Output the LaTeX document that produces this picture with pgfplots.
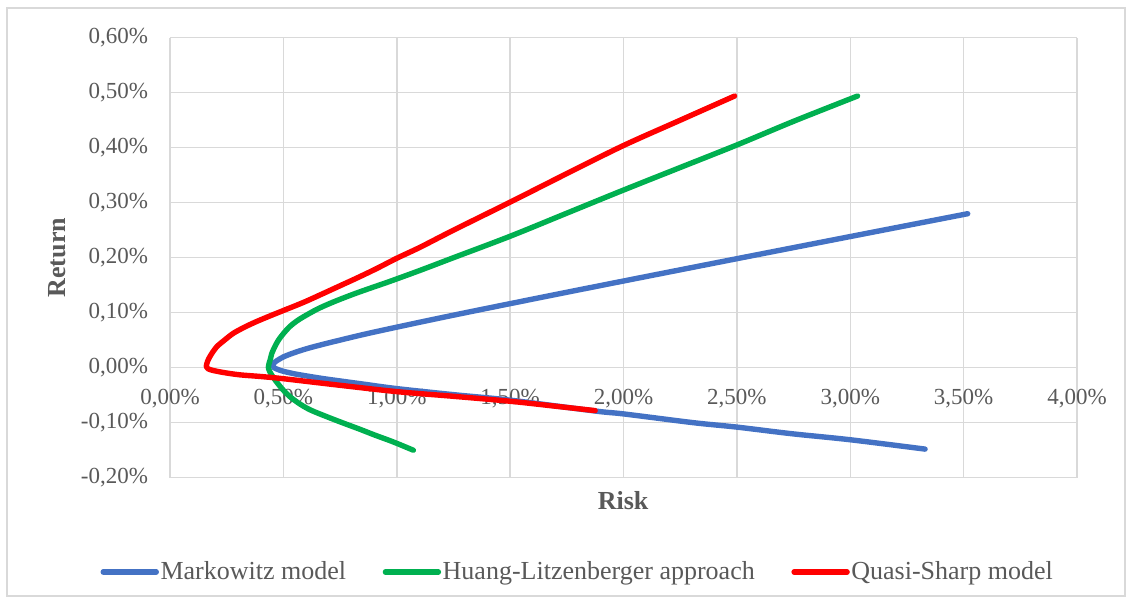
\documentclass[border=0pt]{standalone}
\usepackage{pgfplots}
\pgfplotsset{compat=1.18}
\usepackage{fontspec}
\setmainfont{Liberation Serif}
\definecolor{txt}{HTML}{595959}
\definecolor{gridc}{HTML}{D9D9D9}
\definecolor{zeroc}{HTML}{BFBFBF}
\definecolor{mblue}{HTML}{4472C4}
\definecolor{mgreen}{HTML}{00B050}
\definecolor{mred}{HTML}{FF0000}
\begin{document}
\begin{tikzpicture}
\path[use as bounding box] (-85bp,-62.65bp) rectangle (481bp,238.85bp);
\draw[gridc, line width=0.6bp] (-81.5bp,-59.15bp) rectangle (477.5bp,234.85bp);
\begin{axis}[
  at={(0,0)}, anchor=south west,
  scale only axis, width=453.5bp, height=220bp,
  xmin=0, xmax=4, ymin=-0.2, ymax=0.6,
  xtick={0,0.5,1,1.5,2,2.5,3,3.5,4},
  ytick={-0.2,-0.1,0,0.1,0.2,0.3,0.4,0.5,0.6},
  xticklabels={{0,00\%},{0,50\%},{1,00\%},{1,50\%},{2,00\%},{2,50\%},{3,00\%},{3,50\%},{4,00\%}},
  yticklabels={{-0,20\%},{-0,10\%},{0,00\%},{0,10\%},{0,20\%},{0,30\%},{0,40\%},{0,50\%},{0,60\%}},
  grid=major, major grid style={gridc, line width=0.75bp},
  axis line style={draw=none}, major tick length=0pt,
  tick label style={font=\fontsize{11.5bp}{13bp}\selectfont, text=txt},
  xticklabel style={anchor=center, yshift=39.5bp},
  yticklabel style={xshift=-7.5bp},
  xlabel={Risk}, ylabel={Return},
  label style={font=\bfseries\fontsize{13bp}{15bp}\selectfont, text=txt},
  xlabel style={at={(axis description cs:0.4995,-0.053)}, anchor=center},
  ylabel style={at={(axis description cs:-0.1246,0.5)}, anchor=center},
  extra y ticks={0}, extra y tick labels={},
  extra y tick style={grid style={zeroc, line width=0.75bp}},
  legend columns=3,
  legend style={at={(axis description cs:0.4493,-0.2143)}, anchor=center, draw=none, fill=none,
    font=\fontsize{13bp}{15bp}\selectfont, text=txt,
    nodes={inner sep=0.8bp},
    /tikz/every even column/.append style={column sep=17.5bp}},
  legend image code/.code={\draw[#1, line cap=round] (0bp,0bp) -- (26.5bp,0bp);},
]
\addplot[mblue, line width=2.7bp, line cap=round, line join=round, no markers, smooth, tension=0.5] coordinates {
(3.33,-0.148) (3.0,-0.131) (2.741,-0.120) (2.5,-0.108) (2.309,-0.100) (2.0,-0.084) (1.88,-0.079)
(1.5,-0.059) (1.25,-0.049) (1.0,-0.038) (0.856,-0.030) (0.679,-0.020) (0.574,-0.013)
(0.536,-0.010) (0.487,-0.005) (0.459,0.000) (0.454,0.003) (0.4547,0.005) (0.462,0.010)
(0.502,0.020) (0.567,0.030) (0.651,0.040) (0.849,0.060) (1.071,0.080) (1.303,0.100)
(1.663,0.130) (2.029,0.160) (2.522,0.200) (3.019,0.240) (3.518,0.280)
};
\addlegendentry{Markowitz model}
\addplot[mgreen, line width=2.7bp, line cap=round, line join=round, no markers, smooth, tension=0.5] coordinates {
(1.073,-0.150) (0.985,-0.135) (0.90,-0.122) (0.838,-0.112) (0.76,-0.100) (0.691,-0.089)
(0.62,-0.077) (0.573,-0.066) (0.53,-0.053) (0.50,-0.041) (0.474,-0.028) (0.456,-0.018)
(0.441,-0.008) (0.435,-0.002) (0.434,0.001) (0.437,0.008) (0.443,0.016) (0.449,0.026)
(0.462,0.038) (0.478,0.050) (0.50,0.062) (0.529,0.075) (0.563,0.086) (0.603,0.096)
(0.652,0.107) (0.706,0.117) (0.76,0.126) (0.824,0.136) (0.90,0.147) (0.97,0.157)
(1.103,0.177) (1.25,0.200) (1.5,0.239) (1.75,0.281) (2.0,0.323) (2.25,0.364) (2.5,0.405)
(2.75,0.448) (3.032,0.494)
};
\addlegendentry{Huang-Litzenberger approach}
\addplot[mred, line width=2.7bp, line cap=round, line join=round, no markers, smooth, tension=0.5] coordinates {
(1.875,-0.078) (1.7,-0.070) (1.5,-0.061) (1.25,-0.052) (1.0,-0.0435) (0.75,-0.032)
(0.5,-0.020) (0.4,-0.016) (0.309,-0.013) (0.24,-0.009) (0.19,-0.005) (0.168,-0.002)
(0.160,0.002) (0.166,0.012) (0.18,0.023) (0.206,0.038) (0.24,0.050) (0.279,0.0625)
(0.33,0.074) (0.382,0.084) (0.44,0.094) (0.5,0.104) (0.59,0.119) (0.676,0.135)
(0.75,0.149) (0.824,0.163) (0.91,0.180) (1.0,0.199) (1.103,0.219) (1.25,0.250)
(1.5,0.301) (1.75,0.353) (2.0,0.404) (2.25,0.450) (2.49,0.494)
};
\addlegendentry{Quasi-Sharp model}
\end{axis}
\end{tikzpicture}
\end{document}
